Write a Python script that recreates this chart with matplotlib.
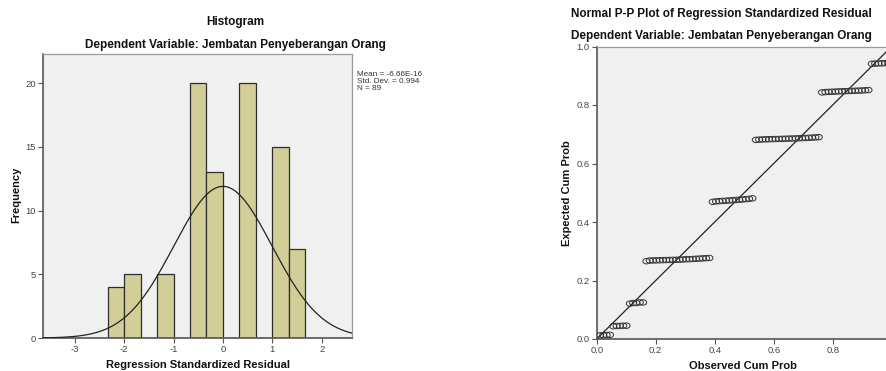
import math
import numpy as np
import matplotlib
matplotlib.use("Agg")
import matplotlib.pyplot as plt
from matplotlib.path import Path

plt.rcParams['font.family'] = ['Liberation Sans', 'DejaVu Sans']
plt.rcParams['axes.unicode_minus'] = False

# Regression standardized residuals (N = 89), grouped by cluster
res_g1 = [-2.24, -2.22, -2.21, -2.19]
res_g2 = [-1.71, -1.70, -1.70, -1.69, -1.69]
res_g3 = [-1.17, -1.16, -1.16, -1.15, -1.15]
res_g4 = [-0.625, -0.618, -0.617, -0.616, -0.615, -0.614, -0.613, -0.612, -0.611, -0.610,
          -0.609, -0.607, -0.605, -0.604, -0.602, -0.600, -0.598, -0.596, -0.594, -0.592]
res_g5 = [-0.078, -0.074, -0.072, -0.070, -0.068, -0.066, -0.064, -0.062, -0.060, -0.058,
          -0.055, -0.052, -0.048]
res_g6 = [0.470, 0.472, 0.474, 0.475, 0.476, 0.477, 0.478, 0.479, 0.480, 0.481,
          0.482, 0.483, 0.484, 0.485, 0.487, 0.488, 0.490, 0.492, 0.494, 0.496]
res_g7 = [1.007, 1.012, 1.015, 1.017, 1.019, 1.021, 1.023, 1.025, 1.027, 1.029,
          1.031, 1.033, 1.035, 1.038, 1.041]
res_g8 = [1.563, 1.568, 1.572, 1.576, 1.580, 1.584, 1.589]

stat_mean = -6.66e-16
stat_sd = 0.994

hist_xticks = [-3, -2, -1, 0, 1, 2]
hist_yticks = [0, 5, 10, 15, 20]
pp_ticks = [0.0, 0.2, 0.4, 0.6, 0.8, 1.0]

residuals = np.array(res_g1 + res_g2 + res_g3 + res_g4 + res_g5 + res_g6 + res_g7 + res_g8)
n = len(residuals)
bin_w = 1.0 / 3.0
bin_edges = np.arange(-7, 6) * bin_w

W, H = 887, 371
fig = plt.figure(figsize=(W / 100, H / 100), dpi=100)
fig.patch.set_facecolor('white')

BG = '#f0f0f0'
BAR = '#d3ce97'
TICKC = '#444444'


def style_axes(ax):
    ax.set_facecolor(BG)
    for s in ('left', 'bottom'):
        ax.spines[s].set_color('#555555')
        ax.spines[s].set_linewidth(1.2)
    for s in ('top', 'right'):
        ax.spines[s].set_color('#9a9a9a')
        ax.spines[s].set_linewidth(0.9)
    ax.tick_params(direction='out', length=3.5, width=0.8, color='#555555',
                   labelsize=6.8, labelcolor=TICKC, pad=1.5)
    ax.tick_params(top=False, right=False)


# ---- Histogram ----
ax1 = fig.add_axes([43 / W, 1 - 338 / H, 309 / W, 284 / H])
style_axes(ax1)
ax1.hist(residuals, bins=bin_edges, color=BAR, edgecolor='#2e2e2e', linewidth=0.9, zorder=2)
xs = np.linspace(-3.7, 2.7, 400)
pdf = n * bin_w * np.exp(-0.5 * ((xs - stat_mean) / stat_sd) ** 2) / (stat_sd * math.sqrt(2 * math.pi))
ax1.plot(xs, pdf, color='#222222', linewidth=0.9, zorder=3)
ax1.set_xlim(-3.64, 2.61)
ax1.set_ylim(0, 22.3)
ax1.set_xticks(hist_xticks)
ax1.set_yticks(hist_yticks)

fig.text(235 / W, 1 - 22 / H, 'Histogram', ha='center', va='center',
         fontsize=8.5, fontweight='bold', color='#111111')
fig.text(235 / W, 1 - 45 / H, 'Dependent Variable: Jembatan Penyeberangan Orang',
         ha='center', va='center', fontsize=8.5, fontweight='bold', color='#111111')
fig.text(16 / W, 1 - 195 / H, 'Frequency', rotation=90, ha='center', va='center',
         fontsize=8, fontweight='bold', color='#111111')
fig.text(198 / W, 1 - 365 / H, 'Regression Standardized Residual', ha='center',
         va='center', fontsize=8, fontweight='bold', color='#111111')
fig.text(357 / W, 1 - 71.5 / H,
         'Mean = -6.66E-16\nStd. Dev. = 0.994\nN = 89',
         ha='left', va='top', fontsize=5.9, color='#333333', linespacing=0.92)

# ---- Normal P-P plot ----
order = np.sort(residuals)
observed = np.arange(1, n + 1) / n
erf_v = np.vectorize(math.erf)
expected = 0.5 * (1 + erf_v(order / math.sqrt(2)))

# slightly wide open ellipse marker
t = np.linspace(0, 2 * np.pi, 40)
ellipse = Path(np.column_stack([1.3 * np.cos(t), np.sin(t)]))

ax2 = fig.add_axes([596.7 / W, 1 - 339 / H, 295 / W, 292.5 / H])
style_axes(ax2)
ax2.plot([0, 1], [0, 1], color='#222222', linewidth=0.9, zorder=2)
ax2.scatter(observed, expected, s=26, marker=ellipse, facecolors='none',
            edgecolors='#333333', linewidths=0.7, zorder=3)
ax2.set_xlim(0, 1)
ax2.set_ylim(0, 1)
ax2.set_xticks(pp_ticks)
ax2.set_yticks(pp_ticks)
ax2.xaxis.set_major_formatter(matplotlib.ticker.FormatStrFormatter('%.1f'))
ax2.yaxis.set_major_formatter(matplotlib.ticker.FormatStrFormatter('%.1f'))

fig.text(721.6 / W, 1 - 13.5 / H, 'Normal P-P Plot of Regression Standardized Residual',
         ha='center', va='center', fontsize=8.5, fontweight='bold', color='#111111')
fig.text(721.6 / W, 1 - 36.5 / H, 'Dependent Variable: Jembatan Penyeberangan Orang',
         ha='center', va='center', fontsize=8.5, fontweight='bold', color='#111111')
fig.text(566.7 / W, 1 - 193 / H, 'Expected Cum Prob', rotation=90, ha='center',
         va='center', fontsize=8, fontweight='bold', color='#111111')
fig.text(743 / W, 1 - 366 / H, 'Observed Cum Prob', ha='center', va='center',
         fontsize=8, fontweight='bold', color='#111111')

fig.savefig('out.png', dpi=100)
